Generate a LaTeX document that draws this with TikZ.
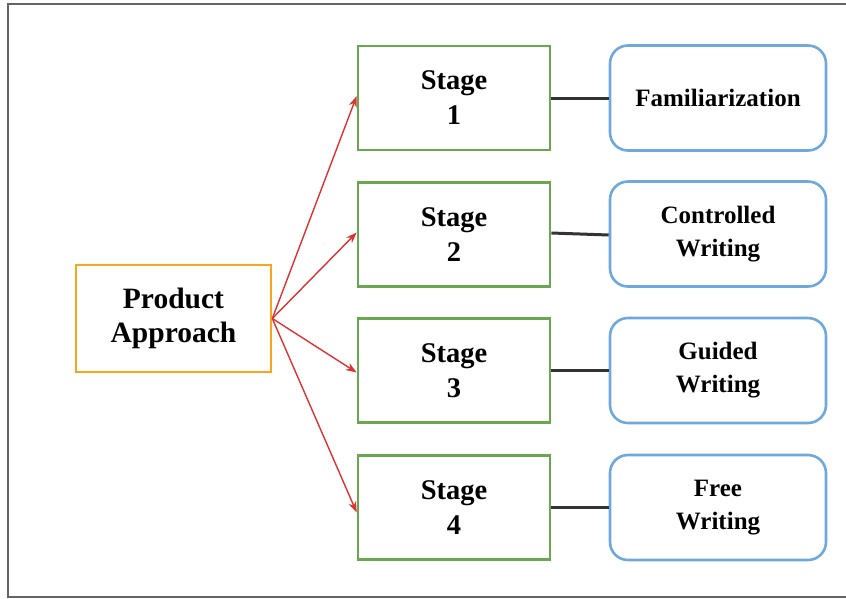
\documentclass[tikz,border=0pt]{standalone}
\usepackage{fontspec}
\setmainfont{Liberation Serif}
\usetikzlibrary{arrows.meta}
\definecolor{orangeb}{RGB}{250,165,30}
\definecolor{greenb}{RGB}{106,168,79}
\definecolor{blueb}{RGB}{111,168,220}
\definecolor{redar}{RGB}{220,50,50}
\definecolor{framec}{RGB}{100,100,100}
\begin{document}
\begin{tikzpicture}[x=1pt,y=-1pt,
  mainbox/.style={draw=orangeb,line width=2.6pt,minimum width=195pt,minimum height=107pt,
    font=\fontsize{29.5}{34}\selectfont\bfseries,align=center,inner sep=0pt},
  stagebox/.style={draw=greenb,line width=2.6pt,minimum width=192pt,minimum height=104pt,
    font=\fontsize{28.5}{35}\selectfont\bfseries,align=center,inner sep=0pt},
  resbox/.style={draw=blueb,line width=2.6pt,rounded corners=18pt,minimum width=216pt,minimum height=105pt,
    font=\fontsize{25}{33}\selectfont\bfseries,align=center,inner sep=0pt},
  redarrow/.style={draw=redar,line width=1.4pt,-{Stealth[length=11pt,width=8pt]}},
  link/.style={draw=black!80,line width=3pt}]
\useasboundingbox (0,0) rectangle (846,598);
\draw[framec,line width=2pt] (846,4) -- (8,4) -- (8,597) -- (846,597);
\node[mainbox] (pa) at (173.5,318.5) {Product\\Approach};
\node[stagebox] (s1) at (454,98) {Stage\\1};
\node[stagebox] (s2) at (454,234.5) {Stage\\2};
\node[stagebox] (s3) at (454,370.5) {Stage\\3};
\node[stagebox] (s4) at (454,507.5) {Stage\\4};
\node[resbox] (r1) at (718,98) {Familiarization};
\node[resbox] (r2) at (718,234) {Controlled\\Writing};
\node[resbox] (r3) at (718,370.5) {Guided\\Writing};
\node[resbox] (r4) at (718,507.5) {Free\\Writing};
\coordinate (o) at (pa.east);
\draw[redarrow] (o) -- ([yshift=2pt]s1.west);
\draw[redarrow] (o) -- ([yshift=2pt]s2.west);
\draw[redarrow] (o) -- ([yshift=-2pt]s3.west);
\draw[redarrow] (o) -- ([yshift=-5pt]s4.west);
\draw[link] (s1.east) -- (r1.west);
\draw[link] ([yshift=1.5pt]s2.east) -- ([yshift=-1pt]r2.west);
\draw[link] (s3.east) -- (r3.west);
\draw[link] (s4.east) -- (r4.west);
\end{tikzpicture}
\end{document}
